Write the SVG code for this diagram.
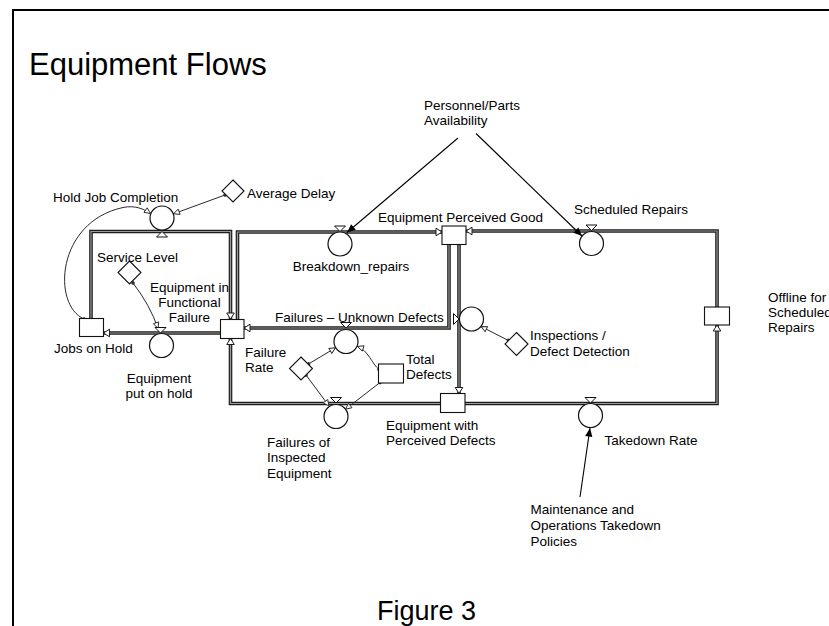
<svg xmlns="http://www.w3.org/2000/svg" width="829" height="626" viewBox="0 0 829 626">
  <style>
    text { font-family: "Liberation Sans", Arial, Helvetica, sans-serif; font-size: 13.5px; fill: #000; }
    .title { font-size: 31px; }
    .fig { font-size: 27px; }
    .mid { text-anchor: middle; }
    .frame { fill: none; stroke: #000; stroke-width: 2; }
    .pipe-o { fill: none; stroke: #1c1c1c; stroke-width: 3.6; stroke-linejoin: miter; }
    .pipe-i { fill: none; stroke: #9a9a9a; stroke-width: 1.2; stroke-linejoin: miter; marker-end: url(#pipeHead); }
    .info { fill: none; stroke: #2a2a2a; stroke-width: 1; marker-start: url(#tailDot); marker-end: url(#infoHead); }
    .cause { fill: none; stroke: #000; stroke-width: 1.1; marker-end: url(#causeHead); }
    .stock { fill: #fff; stroke: #111; stroke-width: 1.1; }
    .valve circle { fill: #fff; stroke: #111; stroke-width: 1.2; }
    .valve polygon { fill: #fff; stroke: #111; stroke-width: 1; }
    .aux { fill: #fff; stroke: #111; stroke-width: 1.1; }
  </style>
  <defs>
    <marker id="pipeHead" viewBox="-8 -5 9 10" refX="0" refY="0" markerWidth="9" markerHeight="10" markerUnits="userSpaceOnUse" orient="auto">
      <path d="M0,0 L-6,-3.8 L-6,3.8 Z" fill="#fff" stroke="#1c1c1c" stroke-width="1"/>
    </marker>
    <marker id="infoHead" viewBox="-8 -4 9 8" refX="0" refY="0" markerWidth="9" markerHeight="8" markerUnits="userSpaceOnUse" orient="auto">
      <path d="M0,0 L-6,-2.8 L-6,2.8 Z" fill="#fff" stroke="#2a2a2a" stroke-width="0.9"/>
    </marker>
    <marker id="causeHead" viewBox="-10 -5 11 10" refX="0" refY="0" markerWidth="11" markerHeight="10" markerUnits="userSpaceOnUse" orient="auto">
      <path d="M0,0 L-8.5,-3.6 L-8.5,3.6 Z" fill="#000"/>
    </marker>
    <marker id="tailDot" viewBox="-3 -3 6 6" refX="0" refY="0" markerWidth="6" markerHeight="6" markerUnits="userSpaceOnUse" orient="auto">
      <circle r="1.8" fill="#333"/>
    </marker>
  </defs>

  <!-- page frame and headings -->
  <path class="frame" d="M13,626 V10 H829"/>
  <text class="title" x="29" y="75">Equipment Flows</text>
  <text class="fig" x="377" y="620">Figure 3</text>

  <!-- flow pipes, information links and causal arrows -->
  <g id="connectors">
    <g id="pipes">
      <path class="pipe-o" d="M91,318 V231.5 H230.5 V319"/>
      <path class="pipe-i" d="M91,318 V231.5 H230.5 V319"/>
      <path class="pipe-o" d="M221,333 H103.5"/>
      <path class="pipe-i" d="M221,333 H103.5"/>
      <path class="pipe-o" d="M237.5,319 V232 H442"/>
      <path class="pipe-i" d="M237.5,319 V232 H442"/>
      <path class="pipe-o" d="M449,244 V328 H244"/>
      <path class="pipe-i" d="M449,244 V328 H244"/>
      <path class="pipe-o" d="M459,244 V393.5"/>
      <path class="pipe-i" d="M459,244 V393.5"/>
      <path class="pipe-o" d="M441,403.5 H230.5 V338.5"/>
      <path class="pipe-i" d="M441,403.5 H230.5 V338.5"/>
      <path class="pipe-o" d="M465,403.5 H717 V325"/>
      <path class="pipe-i" d="M465,403.5 H717 V325"/>
      <path class="pipe-o" d="M717,307 V231 H466"/>
      <path class="pipe-i" d="M717,307 V231 H466"/>
    </g>
    <g id="links">
      <path class="info" d="M225,195 L173.5,213.8"/>
      <path class="info" d="M84,319 C52,305 56,222 123,207.5 C135,205 144,209 150.5,213.5"/>
      <path class="info" d="M133,283 Q150,305 158,328.5"/>
      <path class="info" d="M308.5,364 L335.5,347.8"/>
      <path class="info" d="M306,375 L329,406"/>
      <path class="info" d="M379,369.5 C372,364 368,350 357.5,346.5"/>
      <path class="info" d="M380,382.5 L345.5,409.2"/>
      <path class="info" d="M508.5,340.5 L481,326.5"/>
    </g>
    <g id="causes">
      <path class="cause" d="M458,138 L347,232.5"/>
      <path class="cause" d="M476,133.5 L582,236"/>
      <path class="cause" d="M580,497 L590,428"/>
    </g>
  </g>

  <!-- stocks -->
  <g id="jobs-on-hold">
    <rect class="stock" x="79.5" y="318.5" width="24" height="18"/>
    <text x="54" y="353">Jobs on Hold</text>
  </g>
  <g id="equipment-functional-failure">
    <rect class="stock" x="220.5" y="319.5" width="23.5" height="19"/>
    <text class="mid" x="189.5" y="291.7">Equipment in</text>
    <text class="mid" x="189.5" y="306.7">Functional</text>
    <text class="mid" x="189.5" y="321.7">Failure</text>
  </g>
  <g id="equipment-perceived-good">
    <rect class="stock" x="442" y="226" width="24" height="18.5"/>
    <text x="378" y="222">Equipment Perceived Good</text>
  </g>
  <g id="total-defects">
    <rect class="stock" x="378.5" y="364" width="25" height="19"/>
    <text x="406" y="363.5">Total</text>
    <text x="406" y="379">Defects</text>
  </g>
  <g id="equipment-perceived-defects">
    <rect class="stock" x="440.5" y="393.5" width="24.5" height="19"/>
    <text x="386" y="429.5">Equipment with</text>
    <text x="386" y="444.5">Perceived Defects</text>
  </g>
  <g id="offline-scheduled-repairs">
    <rect class="stock" x="704.5" y="307" width="25" height="18"/>
    <text x="768" y="302">Offline for</text>
    <text x="768" y="317">Scheduled</text>
    <text x="768" y="332">Repairs</text>
  </g>

  <!-- rates -->
  <g id="hold-job-completion" class="valve">
    <circle cx="162" cy="218" r="12"/>
    <polygon points="162,231.5 156.5,237 167.5,237"/>
    <text x="53" y="202">Hold Job Completion</text>
  </g>
  <g id="equipment-put-on-hold" class="valve">
    <circle cx="161.5" cy="345.5" r="12"/>
    <polygon points="155,327.5 166,327.5 160.5,333"/>
    <text class="mid" x="159" y="383">Equipment</text>
    <text class="mid" x="159" y="398">put on hold</text>
  </g>
  <g id="breakdown-repairs" class="valve">
    <circle cx="340" cy="244" r="12"/>
    <polygon points="334.5,226 345.5,226 340,231.5"/>
    <text class="mid" x="351" y="270.5">Breakdown_repairs</text>
  </g>
  <g id="failures-unknown-defects" class="valve">
    <circle cx="346" cy="341.5" r="12"/>
    <polygon points="340.5,322.5 351.5,322.5 346,328"/>
    <text x="275" y="322">Failures – Unknown Defects</text>
  </g>
  <g id="failures-inspected" class="valve">
    <circle cx="336" cy="416.5" r="12"/>
    <polygon points="330.5,397.5 341.5,397.5 336,403"/>
    <text x="267" y="446.5">Failures of</text>
    <text x="267" y="462">Inspected</text>
    <text x="267" y="477.5">Equipment</text>
  </g>
  <g id="inspections-defect-detection-rate" class="valve">
    <circle cx="471.5" cy="319" r="12"/>
    <polygon points="453.5,313.5 453.5,324.5 459,319"/>
  </g>
  <g id="scheduled-repairs" class="valve">
    <circle cx="591.5" cy="243.5" r="12"/>
    <polygon points="586,225 597,225 591.5,230.5"/>
    <text x="574" y="213.5">Scheduled Repairs</text>
  </g>
  <g id="takedown-rate" class="valve">
    <circle cx="590.5" cy="415.5" r="12"/>
    <polygon points="585,397.5 596,397.5 590.5,403"/>
    <text x="604.5" y="445">Takedown Rate</text>
  </g>

  <!-- auxiliaries -->
  <g id="average-delay">
    <polygon class="aux" points="233,180 244,191 233,202 222,191"/>
    <text x="247" y="198">Average Delay</text>
  </g>
  <g id="service-level">
    <polygon class="aux" points="129.5,261 141,272.5 129.5,284 118,272.5"/>
    <text x="97" y="262">Service Level</text>
  </g>
  <g id="failure-rate">
    <polygon class="aux" points="301,357 312.5,368.5 301,380 289.5,368.5"/>
    <text x="245" y="356.7">Failure</text>
    <text x="245" y="371.7">Rate</text>
  </g>
  <g id="inspections-defect-detection">
    <polygon class="aux" points="516.5,332.5 528,344 516.5,355.5 505,344"/>
    <text x="530" y="340">Inspections /</text>
    <text x="530" y="355.7">Defect Detection</text>
  </g>

  <!-- external drivers -->
  <g id="personnel-parts-availability">
    <text x="424" y="109.5">Personnel/Parts</text>
    <text x="424" y="125">Availability</text>
  </g>
  <g id="maintenance-operations-policies">
    <text x="530.5" y="513.5">Maintenance and</text>
    <text x="530.5" y="529.5">Operations Takedown</text>
    <text x="530.5" y="546">Policies</text>
  </g>
</svg>
